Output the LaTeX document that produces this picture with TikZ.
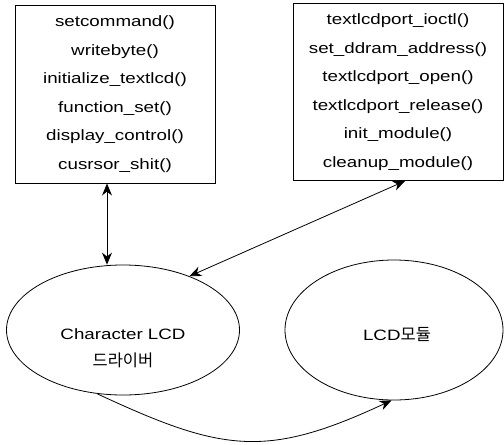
\documentclass[tikz,border=0pt]{standalone}
\usepackage{fontspec}
\setmainfont{Liberation Sans}[FakeStretch=1.25]
\newfontfamily\krfont{Noto Sans CJK KR}[Scale=1.1]
\usetikzlibrary{shapes.geometric,arrows.meta}

\begin{document}
\begin{tikzpicture}[x=1pt,y=-1pt,
		funcbox/.style={draw, line width=1pt, align=center, inner sep=0pt,
			minimum height=178pt, font=\fontsize{15}{28.5}\selectfont},
		module/.style={draw, ellipse, line width=0.8pt, inner sep=0pt},
		label text/.style={align=center, font=\fontsize{15}{27}\selectfont},
		link/.style={line width=0.8pt},
		tip/.tip={Stealth[length=12pt,width=10pt]}]
		\useasboundingbox (0,0) rectangle (504,445);
		% Draw function boxes
		\node[funcbox, minimum width=200pt] (lbox) at (115,94)
		{setcommand()\\writebyte()\\initialize\_textlcd()\\function\_set()\\display\_control()\\cusrsor\_shit()};
		\node[funcbox, minimum width=210pt, minimum height=177pt] (rbox) at (398,92)
		{textlcdport\_ioctl()\\set\_ddram\_address()\\textlcdport\_open()\\textlcdport\_release()\\init\_module()\\cleanup\_module()};
		% Draw driver and module
		\node[module, minimum width=233pt, minimum height=130pt] (drv) at (123,330) {};
		\node[label text] (drvtext) at (123,348) {Character LCD\\{\krfont 드라이버}};
		\node[module, minimum width=218pt, minimum height=140pt] (mod) at (394,330) {};
		\node[label text] (modtext) at (397,334) {LCD{\krfont 모듈}};
		% Draw connections
		\draw[link, tip-tip] ([xshift=-8pt]lbox.south) -- ([xshift=-8pt]lbox.south |- drv.north);
		\draw[link, tip-tip] ([xshift=7pt]rbox.south) -- (drv.39);
		\draw[link, -tip] (drv.248) to[out=-25, in=205, looseness=1.2] (mod.268);
	\end{tikzpicture}
\end{document}
